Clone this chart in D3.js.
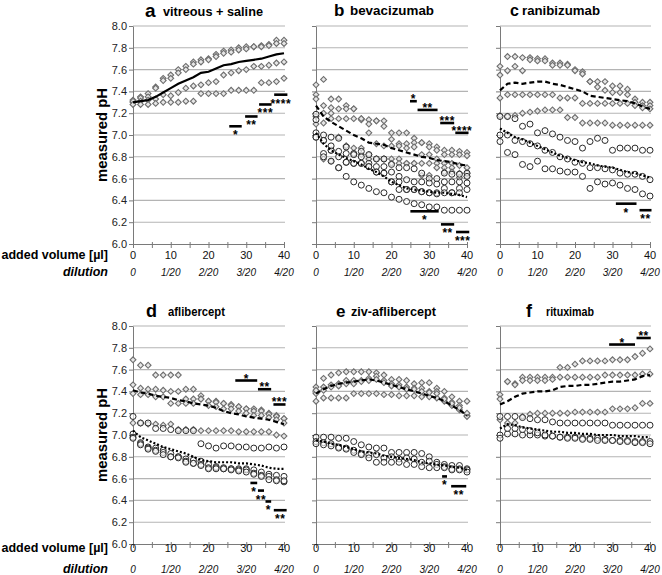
<!DOCTYPE html>
<html><head><meta charset="utf-8">
<script src="https://cdn.jsdelivr.net/npm/d3@7"></script>
<style>body{margin:0;background:#fff}text{font-family:Arial,"Liberation Sans",sans-serif}</style>
</head><body><svg id="chart" width="662" height="575"></svg>
<script>
// ---------- data ----------
const volumes=[0,2,4,6,8,10,12,14,16,18,20,22,24,26,28,30,32,34,36,38,40];
const volumeTicks=[0,10,20,30,40];
const minorTicks=[0,5,10,15,20,25,30,35,40];
const dilutionLabels=["0","1/20","2/20","3/20","4/20"];
const phTicks=[6.0,6.2,6.4,6.6,6.8,7.0,7.2,7.4,7.6,7.8,8.0];
const letters=["a","b","c","d","e","f"];
const titles=["vitreous + saline","bevacizumab","ranibizumab","aflibercept","ziv-aflibercept","rituximab"];

// a: vitreous + saline
const aD1=[7.32,7.35,7.38,7.44,7.52,7.55,7.60,7.63,7.67,7.69,7.70,7.74,7.77,7.78,7.80,7.81,7.81,7.82,7.83,7.87,7.87];
const aD2=[7.30,7.34,7.35,7.43,7.50,7.52,7.57,7.60,7.65,7.67,7.69,7.72,7.75,7.76,7.78,7.79,7.81,7.81,7.82,7.84,7.84];
const aD3=[7.31,7.31,7.32,7.33,7.37,7.36,7.39,7.43,7.45,7.46,7.48,7.49,7.55,7.57,7.59,7.60,7.63,7.63,7.64,7.66,7.67];
const aD4=[7.28,7.28,7.28,7.29,7.30,7.30,7.30,7.31,7.31,7.38,7.38,7.38,7.38,7.41,7.41,7.41,7.41,7.48,7.48,7.49,7.52];
const aMean=[7.30,7.31,7.32,7.35,7.39,7.43,7.47,7.50,7.53,7.57,7.58,7.61,7.64,7.65,7.67,7.68,7.69,7.70,7.72,7.74,7.75];
const aSig=[[25.5,28.8,7.08,"*","below"],[29.7,33,7.17,"**","below"],[33.4,36.7,7.28,"***","below"],[37.4,40.9,7.37,"****","below"]];

// b: bevacizumab
const bD1=[7.46,7.51,7.33,7.33,7.27,7.24,7.15,7.14,7.13,7.13,7.02,7.02,7.02,6.97,6.93,6.92,6.89,6.86,6.86,6.85,6.84];
const bD2=[7.37,7.27,7.25,7.24,7.24,7.24,7.14,7.10,7.13,7.08,6.96,6.92,6.92,6.93,6.93,6.89,6.86,6.82,6.82,6.82,6.81];
const bD3=[7.33,7.20,7.20,7.15,7.15,7.15,7.15,7.02,6.92,6.90,6.90,6.90,6.88,6.89,6.82,6.82,6.78,6.74,6.74,6.72,6.70];
const bD4=[7.17,7.11,7.15,6.98,6.90,6.88,6.88,6.82,6.78,6.78,6.78,6.78,6.74,6.74,6.74,6.74,6.74,6.70,6.70,6.65,6.65];
const bD5=[7.10,6.78,6.76,6.98,6.90,6.83,6.82,6.78,6.78,6.78,6.74,6.74,6.74,6.74,6.63,6.63,6.70,6.66,6.66,6.61,6.62];
const bC1=[7.19,7.00,6.98,6.97,6.89,6.83,6.85,6.82,6.78,6.78,6.73,6.70,6.70,6.69,6.65,6.60,6.60,6.65,6.64,6.64,6.65];
const bC2=[7.14,6.95,6.86,6.85,6.83,6.82,6.80,6.74,6.71,6.71,6.66,6.62,6.59,6.57,6.57,6.56,6.55,6.57,6.57,6.57,6.62];
const bC3=[7.02,6.83,6.86,6.80,6.75,6.74,6.74,6.71,6.66,6.65,6.57,6.50,6.50,6.50,6.48,6.47,6.47,6.51,6.47,6.51,6.56];
const bC4=[6.98,6.80,6.76,6.70,6.75,6.74,6.74,6.71,6.66,6.65,6.57,6.57,6.50,6.50,6.48,6.47,6.46,6.47,6.47,6.47,6.50];
const bC5=[6.98,6.95,6.90,6.70,6.62,6.57,6.54,6.51,6.48,6.47,6.43,6.41,6.39,6.37,6.36,6.34,6.34,6.31,6.31,6.31,6.31];
const bDash=[7.27,7.17,7.12,7.08,7.04,7.00,6.97,6.93,6.92,6.91,6.88,6.86,6.84,6.82,6.80,6.79,6.77,6.76,6.75,6.73,6.72];
const bDot=[7.02,6.92,6.86,6.82,6.79,6.76,6.73,6.69,6.66,6.62,6.57,6.54,6.51,6.50,6.49,6.48,6.47,6.47,6.46,6.45,6.43];
const bSig=[[24.9,26.7,7.31,"*","above"],[26.9,32.2,7.23,"**","above"],[32.9,36.6,7.11,"***","above"],[36.9,40.4,7.02,"****","above"],
            [25,32.5,6.30,"*","below"],[33.1,36.6,6.18,"**","below"],[37.1,40.6,6.11,"***","below"]];

// c: ranibizumab
const cD1=[7.63,7.72,7.72,7.71,7.71,7.70,7.70,7.66,7.66,7.65,7.60,7.58,7.49,7.49,7.49,7.45,7.45,7.42,7.33,7.30,7.30];
const cD2=[7.55,7.59,7.63,7.59,7.69,7.68,7.68,7.64,7.64,7.64,7.59,7.56,7.49,7.44,7.41,7.39,7.39,7.37,7.30,7.27,7.27];
const cD3=[7.34,7.37,7.37,7.37,7.37,7.37,7.37,7.37,7.34,7.34,7.34,7.29,7.29,7.29,7.29,7.29,7.29,7.29,7.27,7.25,7.24];
const cD4=[7.18,7.17,7.18,7.20,7.21,7.22,7.23,7.23,7.23,7.16,7.16,7.11,7.11,7.11,7.11,7.09,7.09,7.09,7.09,7.09,7.09];
const cC1=[7.17,7.17,7.15,7.08,7.10,7.02,7.04,7.01,6.98,6.95,6.94,6.88,6.94,6.97,6.95,6.86,6.88,6.88,6.88,6.86,6.86];
const cC2=[7.00,7.00,6.95,6.94,6.92,6.90,6.86,6.84,6.80,6.78,6.75,6.74,6.70,6.70,6.69,6.68,6.65,6.64,6.64,6.62,6.59];
const cC3=[6.94,6.84,6.82,6.73,6.71,6.76,6.69,6.69,6.67,6.66,6.66,6.62,6.51,6.57,6.55,6.56,6.54,6.51,6.50,6.46,6.44];
const cDash=[7.41,7.47,7.48,7.47,7.48,7.49,7.49,7.47,7.46,7.44,7.42,7.40,7.36,7.35,7.34,7.33,7.32,7.31,7.29,7.26,7.24];
const cDot=[7.06,7.02,6.98,6.96,6.93,6.90,6.87,6.84,6.81,6.79,6.77,6.75,6.74,6.72,6.71,6.70,6.68,6.66,6.65,6.63,6.61];
const cSig=[[30.9,36.4,6.37,"*","below"],[37.2,40.4,6.31,"**","below"]];

// d: aflibercept
const dD1=[7.69,7.64,7.64,7.55,7.55,7.55,7.55,7.42,7.42,7.36,7.31,7.31,7.29,7.28,7.26,7.24,7.24,7.23,7.20,7.18,7.15];
const dD2=[7.46,7.43,7.42,7.42,7.41,7.40,7.40,7.33,7.33,7.33,7.31,7.30,7.29,7.27,7.26,7.24,7.22,7.22,7.19,7.17,7.15];
const dD3=[7.38,7.37,7.37,7.35,7.35,7.29,7.29,7.29,7.29,7.33,7.27,7.26,7.24,7.24,7.22,7.20,7.18,7.18,7.16,7.14,7.11];
const dD4=[7.11,7.11,7.10,7.10,7.09,7.10,7.05,7.05,7.05,7.04,7.04,7.04,7.04,7.04,7.03,7.03,7.03,7.03,7.03,7.00,6.99];
const dC1=[7.17,7.11,7.11,7.06,7.06,7.05,7.04,7.04,7.04,6.92,6.90,6.88,6.90,6.90,6.89,6.89,6.88,6.88,6.89,6.88,6.89];
const dC2=[7.01,6.93,6.89,6.88,6.86,6.83,6.80,6.78,6.77,6.76,6.73,6.71,6.70,6.69,6.69,6.69,6.68,6.66,6.64,6.63,6.62];
const dC3=[6.98,6.92,6.88,6.86,6.84,6.80,6.80,6.76,6.74,6.73,6.70,6.70,6.69,6.69,6.68,6.68,6.65,6.63,6.62,6.59,6.57];
const dC4=[6.97,6.91,6.87,6.85,6.82,6.80,6.79,6.75,6.74,6.72,6.69,6.69,6.69,6.68,6.67,6.66,6.64,6.62,6.59,6.58,6.58];
const dDash=[7.41,7.39,7.38,7.36,7.35,7.34,7.32,7.31,7.29,7.28,7.27,7.25,7.22,7.20,7.19,7.17,7.16,7.15,7.14,7.12,7.10];
const dDot=[7.04,6.98,6.95,6.92,6.89,6.87,6.85,6.83,6.80,6.77,6.76,6.75,6.75,6.75,6.74,6.74,6.73,6.72,6.70,6.69,6.69];
const dSig=[[27.1,32.9,7.50,"*","above"],[33.1,36.6,7.42,"**","above"],[37.2,40.4,7.28,"***","above"],
            [31.1,32.9,6.56,"*","below"],[33.1,34.7,6.49,"**","below"],[35.1,36.6,6.39,"*","below"],[37.3,40.7,6.31,"**","below"]];

// e: ziv-aflibercept
const eD1=[7.44,7.52,7.55,7.57,7.58,7.58,7.58,7.58,7.57,7.55,7.51,7.51,7.50,7.47,7.48,7.48,7.43,7.40,7.35,7.31,7.31];
const eD2=[7.38,7.44,7.46,7.47,7.50,7.50,7.50,7.52,7.54,7.50,7.47,7.46,7.44,7.43,7.43,7.40,7.40,7.34,7.30,7.27,7.18];
const eD3=[7.31,7.34,7.34,7.34,7.34,7.38,7.38,7.38,7.38,7.37,7.37,7.36,7.36,7.36,7.35,7.35,7.34,7.31,7.27,7.23,7.17];
const eD4=[7.41,7.41,7.44,7.45,7.47,7.47,7.49,7.50,7.51,7.48,7.45,7.44,7.42,7.42,7.40,7.39,7.38,7.33,7.29,7.25,7.20];
const eC1=[6.98,6.98,6.98,6.97,6.97,6.94,6.91,6.89,6.88,6.88,6.84,6.84,6.84,6.84,6.83,6.80,6.75,6.73,6.72,6.72,6.69];
const eC2=[6.94,6.93,6.92,6.89,6.88,6.86,6.83,6.82,6.82,6.79,6.80,6.78,6.79,6.78,6.75,6.76,6.73,6.71,6.69,6.69,6.68];
const eC3=[6.92,6.91,6.90,6.88,6.87,6.84,6.82,6.79,6.75,6.75,6.75,6.75,6.73,6.73,6.71,6.70,6.70,6.70,6.68,6.68,6.66];
const eDash=[7.38,7.42,7.45,7.47,7.48,7.49,7.50,7.51,7.50,7.48,7.46,7.44,7.42,7.40,7.38,7.36,7.34,7.31,7.27,7.23,7.18];
const eDot=[6.95,6.94,6.92,6.91,6.89,6.87,6.85,6.84,6.83,6.81,6.80,6.79,6.78,6.77,6.75,6.74,6.73,6.72,6.71,6.70,6.68];
const eSig=[[33.4,34.7,6.62,"*","below"],[35.8,39.8,6.53,"**","below"]];

// f: rituximab
const fD1=[7.37,7.49,7.47,7.53,7.53,7.53,7.53,7.53,7.62,7.62,7.65,7.68,7.68,7.68,7.68,7.69,7.69,7.69,7.72,7.75,7.79];
const fD2=[7.33,7.49,7.46,7.50,7.50,7.50,7.50,7.51,7.53,7.53,7.53,7.53,7.53,7.53,7.55,7.55,7.55,7.55,7.55,7.56,7.56];
const fD3=[7.14,7.11,7.11,7.17,7.19,7.20,7.20,7.20,7.20,7.20,7.21,7.21,7.21,7.21,7.21,7.24,7.24,7.24,7.25,7.29,7.29];
const fC1=[7.17,7.17,7.17,7.16,7.15,7.14,7.14,7.12,7.11,7.11,7.11,7.11,7.11,7.11,7.11,7.09,7.09,7.09,7.09,7.09,7.09];
const fC2=[7.00,7.01,7.01,7.00,7.00,7.00,6.99,6.99,6.98,6.98,6.98,6.97,6.97,6.97,6.96,6.95,6.95,6.95,6.94,6.94,6.94];
const fC3=[6.97,7.06,7.06,7.05,7.04,7.02,7.00,6.99,6.98,6.97,6.97,6.96,6.96,6.95,6.95,6.95,6.94,6.94,6.93,6.93,6.92];
const fDash=[7.28,7.31,7.35,7.38,7.39,7.40,7.40,7.41,7.44,7.45,7.45,7.46,7.46,7.47,7.48,7.49,7.49,7.50,7.51,7.54,7.55];
const fDot=[7.06,7.10,7.09,7.07,7.06,7.05,7.04,7.03,7.03,7.02,7.02,7.01,7.01,7.00,7.00,7.00,6.99,6.99,6.99,6.98,6.98];
const fSig=[[29.1,36,7.83,"*","above"],[36.4,40.2,7.89,"**","above"]];

// ---------- panel table built from the arrays ----------
const panels=[
  {diamonds:[aD1,aD2,aD3,aD4],circles:[],solid:aMean,dashed:null,dotted:null,sig:aSig},
  {diamonds:[bD1,bD2,bD3,bD4,bD5],circles:[bC1,bC2,bC3,bC4,bC5],solid:null,dashed:bDash,dotted:bDot,sig:bSig},
  {diamonds:[cD1,cD2,cD3,cD4],circles:[cC1,cC2,cC3],solid:null,dashed:cDash,dotted:cDot,sig:cSig},
  {diamonds:[dD1,dD2,dD3,dD4],circles:[dC1,dC2,dC3,dC4],solid:null,dashed:dDash,dotted:dDot,sig:dSig},
  {diamonds:[eD1,eD2,eD3,eD4],circles:[eC1,eC2,eC3],solid:null,dashed:eDash,dotted:eDot,sig:eSig},
  {diamonds:[fD1,fD2,fD3],circles:[fC1,fC2,fC3],solid:null,dashed:fDash,dotted:fDot,sig:fSig}
];

// ---------- layout ----------
const cols=[[133,284],[316,467],[500,650]];
const rows=[[26,244],[326,544]];
const head=[ // letter offset, letter size, title offset, title width
  {lx:12,ls:19,tx:30,tw:100,base:17},
  {lx:18,ls:17,tx:34,tw:84,base:16},
  {lx:10,ls:16,tx:22,tw:78,base:16},
  {lx:13,ls:18,tx:35,tw:57,base:317},
  {lx:20,ls:17,tx:35,tw:85,base:317},
  {lx:26,ls:18,tx:46,tw:48,base:317}
];
const labelBase=[[259,275.5],[552,572.5]];

const svg=d3.select("#chart");
const font='Arial,"Liberation Sans",sans-serif';

panels.forEach((p,i)=>{
  const c=cols[i%3], r=rows[Math.floor(i/3)], row=Math.floor(i/3);
  const x=d3.scaleLinear().domain([0,40]).range(c);
  const y=d3.scaleLinear().domain([6,8]).range([r[1],r[0]]);
  const g=svg.append("g");

  // gridlines
  g.append("g").selectAll("line").data(phTicks.filter(v=>v>6)).join("line")
    .attr("x1",c[0]).attr("x2",c[1]+1).attr("y1",d=>y(d)).attr("y2",d=>y(d))
    .attr("stroke","#b4b4b4").attr("stroke-width",1.1);

  // y axis
  const ya=g.append("g").attr("transform",`translate(${c[0]},0)`)
    .call(d3.axisLeft(y).tickValues(phTicks).tickSize(4).tickSizeOuter(0)
      .tickFormat(i%3===0?d3.format(".1f"):()=>""));
  ya.select(".domain").attr("stroke","#7a7a7a");
  ya.selectAll(".tick line").attr("stroke","#7a7a7a");
  ya.selectAll("text").attr("font-size",11).attr("font-family",font).attr("fill","#222").attr("x",-6);

  // x axis
  const xa=g.append("g").attr("transform",`translate(0,${r[1]})`)
    .call(d3.axisBottom(x).tickValues(minorTicks).tickSize(4).tickSizeOuter(0).tickFormat(()=>""));
  xa.select(".domain").attr("stroke","#7a7a7a");
  xa.selectAll(".tick line").attr("stroke","#7a7a7a").attr("y1",-2);

  // x tick labels (volume and dilution)
  g.append("g").selectAll("text").data(volumeTicks).join("text")
    .attr("x",d=>x(d)).attr("y",labelBase[row][0]).attr("text-anchor","middle")
    .attr("font-size",11).attr("font-family",font).attr("fill","#111").text(d=>d);
  g.append("g").selectAll("text").data(volumeTicks).join("text")
    .attr("x",d=>x(d)).attr("y",labelBase[row][1]).attr("text-anchor","middle")
    .attr("font-size",10).attr("font-style","italic").attr("font-family",font).attr("fill","#111")
    .text((d,k)=>dilutionLabels[k]);

  // diamonds
  const diamond=d3.symbol().type(d3.symbolSquare).size(17);
  p.diamonds.forEach(s=>{
    g.append("g").selectAll("path").data(volumes.map((v,k)=>[v,s[k]])).join("path")
      .attr("d",diamond).attr("transform",d=>`translate(${x(d[0])},${y(d[1])}) rotate(45)`)
      .attr("fill","#e6e6e6").attr("stroke","#6e6e6e").attr("stroke-width",1.1);
  });
  // circles
  p.circles.forEach(s=>{
    g.append("g").selectAll("circle").data(volumes.map((v,k)=>[v,s[k]])).join("circle")
      .attr("cx",d=>x(d[0])).attr("cy",d=>y(d[1])).attr("r",3)
      .attr("fill","#fff").attr("fill-opacity",0.6).attr("stroke","#2a2a2a").attr("stroke-width",1);
  });

  // mean lines
  const line=d3.line().x(d=>x(d[0])).y(d=>y(d[1]));
  const addLine=(s,dash)=>{
    if(!s) return;
    g.append("path").datum(volumes.map((v,k)=>[v,s[k]])).attr("d",line)
      .attr("fill","none").attr("stroke","#000").attr("stroke-width",2.2)
      .attr("stroke-dasharray",dash);
  };
  addLine(p.solid,null);
  addLine(p.dashed,"5,3");
  addLine(p.dotted,"2,2");

  // significance bars
  p.sig.forEach(sg=>{
    const [x0,x1,v,lab,pos]=sg;
    g.append("line").attr("x1",x(x0)).attr("x2",x(x1)).attr("y1",y(v)).attr("y2",y(v))
      .attr("stroke","#000").attr("stroke-width",2.6);
    g.append("text").attr("x",(x(x0)+x(x1))/2).attr("y",pos==="below"?y(v)+13:y(v)+2)
      .attr("text-anchor","middle").attr("font-size",12).attr("font-weight","bold")
      .attr("font-family",font).attr("letter-spacing",0.5).text(lab);
  });

  // headings
  const h=head[i];
  g.append("text").attr("x",c[0]+h.lx).attr("y",h.base).attr("font-size",h.ls).attr("font-weight","bold")
    .attr("font-family",font).text(letters[i]);
  g.append("text").attr("x",c[0]+h.tx).attr("y",h.base-1).attr("font-size",13).attr("font-weight","bold")
    .attr("font-family",font).attr("textLength",h.tw).attr("lengthAdjust","spacingAndGlyphs").text(titles[i]);

  // left labels
  if(i%3===0){
    g.append("text").attr("transform",`translate(107,${(r[0]+r[1])/2}) rotate(-90)`)
      .attr("text-anchor","middle").attr("font-size",14).attr("font-weight","bold").attr("font-family",font)
      .attr("textLength",94).attr("lengthAdjust","spacingAndGlyphs").text("measured pH");
    g.append("text").attr("x",108).attr("y",labelBase[row][0]).attr("text-anchor","end")
      .attr("font-size",12.5).attr("font-weight","bold").attr("font-family",font).text("added volume [µl]");
    g.append("text").attr("x",108).attr("y",labelBase[row][1]).attr("text-anchor","end")
      .attr("font-size",12.5).attr("font-weight","bold").attr("font-style","italic").attr("font-family",font).text("dilution");
  }
});
</script></body></html>
